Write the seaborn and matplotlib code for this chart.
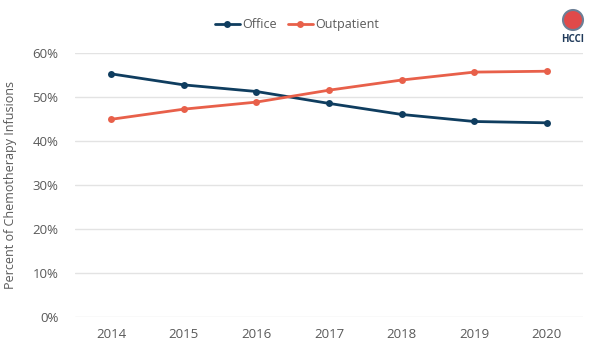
import matplotlib
matplotlib.use("Agg")
import matplotlib.pyplot as plt
import seaborn as sns
import pandas as pd
from matplotlib.patches import Ellipse

years = ["2014", "2015", "2016", "2017", "2018", "2019", "2020"]
office = [55.2, 52.7, 51.2, 48.5, 46.0, 44.4, 44.1]
outpatient = [44.9, 47.2, 48.8, 51.5, 53.8, 55.6, 55.8]
yticks = [0, 10, 20, 30, 40, 50, 60]

sns.set_theme(style="white")
plt.rcParams['font.family'] = ['Open Sans', 'DejaVu Sans']

df = pd.DataFrame({
    "Year": years * 2,
    "Value": office + outpatient,
    "Setting": ["Office"] * 7 + ["Outpatient"] * 7,
})

fig = plt.figure(figsize=(5.96, 3.48), dpi=100)
ax = fig.add_axes([75/596, 1 - 317.3/348, (583-75)/596, (317.3-52.7)/348])

palette = {"Office": "#0f3d5f", "Outpatient": "#e8604a"}
sns.lineplot(data=df, x="Year", y="Value", hue="Setting", palette=palette,
             marker="o", markersize=5, markeredgewidth=0, linewidth=2, ax=ax, sort=False)

ax.set_xlim(-0.5, 6.5)
ax.set_ylim(0, 60)
ax.set_yticks(yticks)
ax.set_yticklabels([f"{v}%" for v in yticks])
ax.yaxis.grid(True, color="#e3e3e3", linewidth=1)
ax.set_axisbelow(True)
for s in ax.spines.values():
    s.set_visible(False)
ax.tick_params(axis="both", length=0, labelsize=9.5, colors="#595959")
ax.tick_params(axis="y", pad=12)
ax.tick_params(axis="x", pad=8)
ax.set_xlabel("")
ax.set_ylabel("Percent of Chemotherapy Infusions", fontsize=9, color="#595959", labelpad=11)

leg = ax.legend(loc="center", bbox_to_anchor=(0.437, 1.105), ncol=2, frameon=False,
                fontsize=9, handlelength=2.0, columnspacing=0.9, handletextpad=0.2)
for t in leg.get_texts():
    t.set_color("#595959")

# logo
lx, ly = 573/596, 1 - 20/348
circ = Ellipse((lx, ly), 20/596, 20/348, transform=fig.transFigure, facecolor="#e04a4a",
               edgecolor="#6c7f96", linewidth=1.5)
fig.patches.append(circ)
fig.text(lx, 1 - 40/348, "HCCI", ha="center", va="center", fontsize=7,
         fontweight="bold", color="#1f3a5a")

fig.savefig("out.png", dpi=100)
